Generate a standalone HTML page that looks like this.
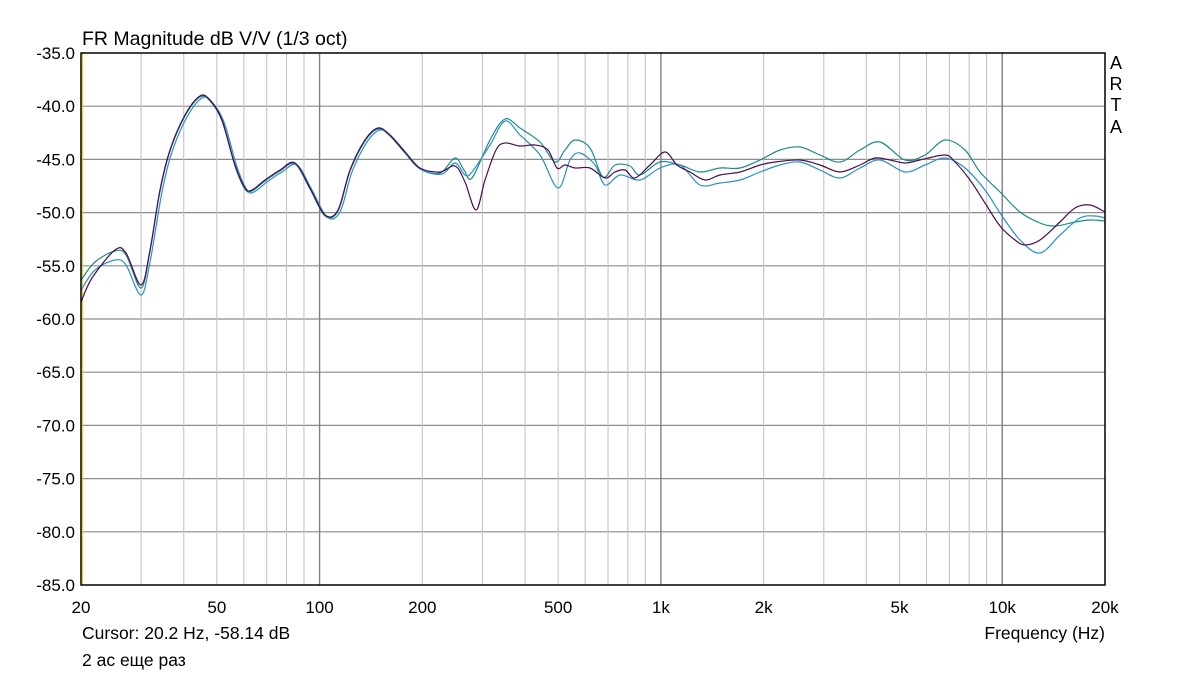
<!DOCTYPE html>
<html><head><meta charset="utf-8"><style>
body{margin:0;background:#fff;width:1185px;height:673px;overflow:hidden;font-family:"Liberation Sans",sans-serif}
svg text{font-family:"Liberation Sans","DejaVu Sans",sans-serif;fill:#000}
</style></head><body>
<svg id="s" width="1185" height="673" xmlns="http://www.w3.org/2000/svg">
<rect width="1185" height="673" fill="#fff"/>
<g id="grid"></g>
<line x1="82.5" y1="53" x2="82.5" y2="585" stroke="#ecd800" stroke-width="1"/>
<g id="curves" fill="none" stroke-width="1.2"></g>
<rect x="81" y="53" width="1024" height="532" fill="none" stroke="#000" stroke-width="1.5"/>
<text x="82" y="45" font-size="19.5">FR Magnitude dB V/V (1/3 oct)</text>
<g font-size="17" text-anchor="end" id="yl"></g>
<g font-size="17" text-anchor="middle" id="xl"></g>
<g font-size="18" text-anchor="middle"><text x="1116" y="69">A</text><text x="1116" y="90">R</text><text x="1116" y="111">T</text><text x="1116" y="133">A</text></g>
<text x="82" y="639" font-size="17.5">Cursor: 20.2 Hz, -58.14 dB</text>
<text x="82" y="666" font-size="17.5">2 ас еще раз</text>
<text x="1105" y="639" font-size="17.5" text-anchor="end">Frequency (Hz)</text>
</svg>
<script>
const NS="http://www.w3.org/2000/svg";
function X(f){return 81+341.33*Math.log10(f/20);}
function Y(d){return 53+(-35-d)*10.64;}
function el(p,t,a,txt){const e=document.createElementNS(NS,t);for(const k in a)e.setAttribute(k,a[k]);if(txt!==undefined)e.textContent=txt;p.appendChild(e);}
const g=document.getElementById('grid');
for(let d=-40;d>=-80;d-=5){const y=Y(d);el(g,'line',{x1:81,x2:1105,y1:y,y2:y,stroke:'#8c8c8c','stroke-width':1.2});}
for(let dec of [10,100,1000,10000]){for(let m=1;m<=9;m++){const f=dec*m;if(f<=20||f>=20000)continue;const x=X(f);el(g,'line',{x1:x,x2:x,y1:53,y2:585,stroke:m==1?'#808080':'#c4c4c4','stroke-width':m==1?1.4:1.1});}}
const yl=document.getElementById('yl');
for(let d=-35;d>=-85;d-=5){el(yl,'text',{x:75,y:Y(d)+6},d.toFixed(1));}
const xl=document.getElementById('xl');
[[20,'20'],[50,'50'],[100,'100'],[200,'200'],[500,'500'],[1000,'1k'],[2000,'2k'],[5000,'5k'],[10000,'10k'],[20000,'20k']].forEach(a=>el(xl,'text',{x:X(a[0]),y:613},a[1]));
function path(p){let d='M'+p[0][0]+','+p[0][1];for(let i=0;i<p.length-1;i++){const p0=p[i-1]||p[i],p1=p[i],p2=p[i+1],p3=p[i+2]||p2;const c1x=p1[0]+(p2[0]-p0[0])/6,c1y=p1[1]+(p2[1]-p0[1])/6,c2x=p2[0]-(p3[0]-p1[0])/6,c2y=p2[1]-(p3[1]-p1[1])/6;d+=`C${c1x},${c1y} ${c2x},${c2y} ${p2[0]},${p2[1]}`;}return d;}
const low=[[150,250],[160,190],[170,150],[185,115],[200,96],[210,100],[222,120],[235,165],[245,188],[252,190],[265,180],[280,170],[295,163],[310,188],[325,215],[338,210],[350,170],[365,140],[378,128],[390,135],[405,152],[420,168],[440,172]];
const purple=[[81,302],[92,278],[115,250],[126,253],[141,285]].concat(low,[[455,166],[465,182],[476,210],[485,180],[496,150],[505,143],[520,146],[535,145],[548,150],[557,168],[565,165],[575,168],[590,168],[605,178],[615,172],[625,170],[635,178],[650,165],[665,152],[677,165],[690,172],[705,180],[720,175],[740,172],[760,165],[775,162],[800,160],[820,165],[840,172],[860,165],[875,158],[890,160],[905,163],[920,160],[945,155],[955,162],[970,180],[985,203],[1000,226],[1015,240],[1025,245],[1040,240],[1060,222],[1075,208],[1090,205],[1105,212]]);
const teal=[[81,280],[95,262],[115,251],[126,255],[141,288]].concat(low.map(p=>[p[0],p[1]+1]),[[455,158],[464,170],[472,178],[490,140],[505,119],[520,128],[540,142],[555,162],[565,150],[575,140],[590,148],[603,177],[615,165],[630,166],[640,175],[660,162],[680,165],[700,172],[720,168],[740,168],[760,160],[780,150],[800,147],[820,155],[840,162],[860,150],[880,142],[905,160],[925,155],[945,140],[965,150],[980,172],[1000,192],[1020,212],[1040,223],[1055,226],[1075,222],[1090,220],[1105,221]]);
const blue=[[81,290],[95,270],[115,260],[126,265],[141,295],[150,262]].concat(low.slice(1).map(p=>[p[0]+2,p[1]+2]),[[455,163],[465,175],[472,172],[490,145],[505,121],[520,135],[540,155],[558,188],[570,160],[580,153],[595,165],[605,185],[620,175],[640,180],[660,168],[680,165],[700,185],[720,183],[740,180],[760,172],[780,165],[800,162],[820,170],[840,178],[860,168],[880,160],[905,172],[925,165],[945,158],[965,168],[985,190],[1000,213],[1020,240],[1040,253],[1060,235],[1080,218],[1095,216],[1105,218]]);
const c=document.getElementById('curves');
el(c,'path',{d:path(teal),stroke:'#1e8a8a'});
el(c,'path',{d:path(blue),stroke:'#2a90c8'});
el(c,'path',{d:path(purple),stroke:'#4a0f4e'});
</script>
</body></html>
